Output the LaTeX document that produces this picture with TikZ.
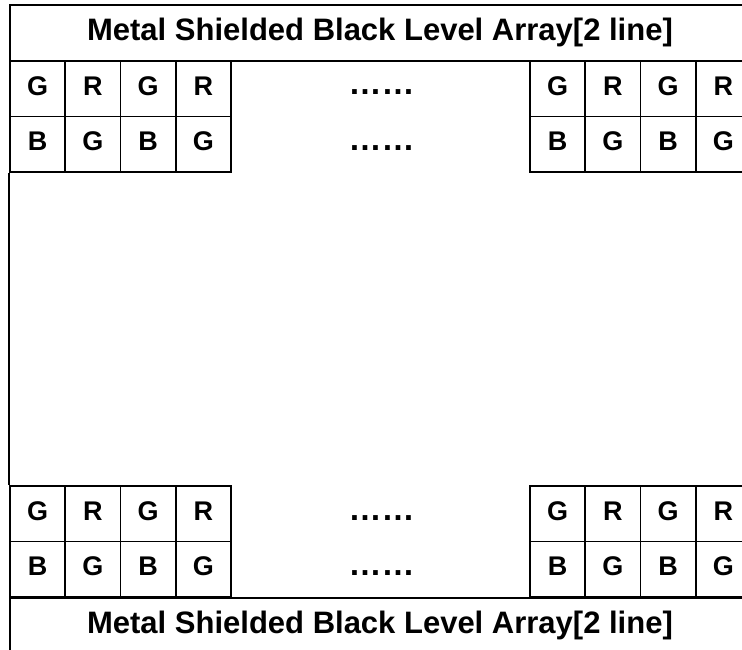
\documentclass[tikz,border=0pt]{standalone}
\usepackage{fontspec}
\setmainfont{Liberation Sans}
\begin{document}
\begin{tikzpicture}[x=1pt,y=-1pt,line width=1.6pt,
  band/.style={draw, rectangle, minimum width=740pt, minimum height=56pt, inner sep=0pt,
    font=\bfseries\fontsize{31}{31}\selectfont, text height=22.4pt, text depth=6.6pt},
  cell/.style={draw, rectangle, minimum width=55.25pt, minimum height=55.5pt, inner sep=0pt,
    font=\bfseries\fontsize{27}{27}\selectfont, text height=19.3pt, text depth=6pt},
  dotsnode/.style={inner sep=0pt, anchor=base, font=\bfseries\fontsize{33}{33}\selectfont}]
\useasboundingbox (0,0) rectangle (742,650);
\clip (0,0) rectangle (742,650);
% title bands
\node[band] (toptitle) at (380,33) {Metal Shielded Black Level Array[2 line]};
\node[band] (bottitle) at (380,626) {Metal Shielded Black Level Array[2 line]};
% cell grids
\foreach \gname/\x in {l/10, r/530} {
  \foreach \rname/\y/\letters in {a/61/{G,R,G,R}, b/116.5/{B,G,B,G}, c/486/{G,R,G,R}, d/541.5/{B,G,B,G}} {
    \foreach \t [count=\i from 0] in \letters {
      \node[cell] (\gname\rname\i) at ({\x+27.625+55.25*\i},{\y+27.75}) {\t};
    }
  }
}
% dots
\node[dotsnode] (dotsa) at (381.5,95) {……};
\node[dotsnode] (dotsb) at (381.5,150.5) {……};
\node[dotsnode] (dotsc) at (381.5,520) {……};
\node[dotsnode] (dotsd) at (381.5,575.5) {……};
% left border between grids
\draw (lb0.south west) -- (lc0.north west);
\end{tikzpicture}
\end{document}
